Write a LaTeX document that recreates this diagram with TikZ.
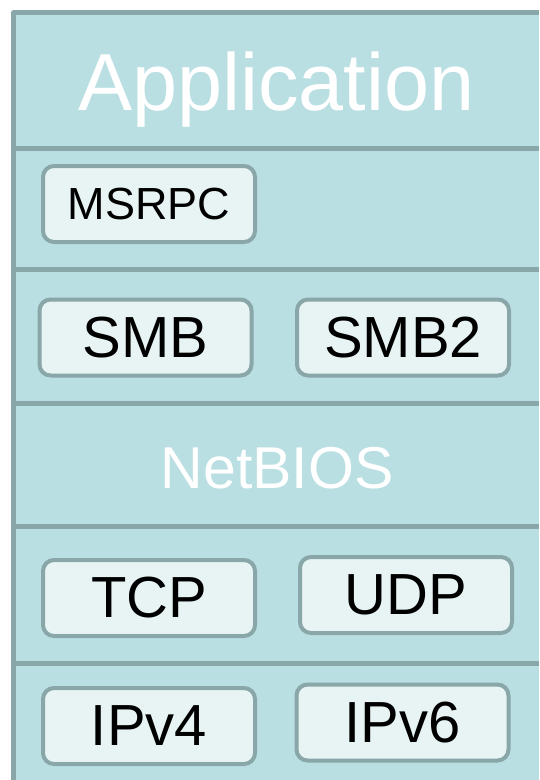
\documentclass[tikz,border=0pt]{standalone}
\usepackage{fontspec}
\setmainfont{Liberation Sans}
\definecolor{layerfill}{HTML}{BADFE2}
\definecolor{edgegray}{HTML}{89A6A8}
\definecolor{boxfill}{HTML}{E8F4F4}
\tikzset{
  protobox/.style={draw=edgegray, line width=4pt, fill=boxfill, rounded corners=11pt,
    minimum width=212pt, minimum height=76pt, inner sep=0pt, text=black,
    font=\fontsize{58}{58}\selectfont},
  smallbox/.style={protobox, font=\fontsize{45}{45}\selectfont},
  layerlabel/.style={text=white, inner sep=0pt, anchor=base},
  frameline/.style={draw=edgegray, line width=5pt},
}
\begin{document}
\begin{tikzpicture}[x=1pt,y=-1pt]
\useasboundingbox (0,0) rectangle (539,780);
\fill[layerfill] (13.5,12.5) rectangle (539,780);
% frame
\draw[frameline, line join=round] (13.5,780) -- (13.5,12.5) -- (539,12.5);
\foreach \yy in {148.5,269.5,403.5,526.5,663.5}
  \draw[frameline] (13.5,\yy) -- (539,\yy);
% layer labels
\node[layerlabel, font=\fontsize{81}{81}\selectfont] (app) at (276.5,110.5) {Application};
\node[layerlabel, font=\fontsize{59}{59}\selectfont] (netbios) at (277,488.5) {NetBIOS};
% protocol boxes
\node[smallbox] (msrpc) at (149,204) {MSRPC};
\node[protobox] (smb) at (145.5,337.5) {SMB};
\node[protobox] (smb2) at (403,337.5) {SMB2};
\node[protobox] (tcp) at (149,598) {TCP};
\node[protobox] (udp) at (406,595) {UDP};
\node[protobox] (ipv4) at (149,726) {IPv4};
\node[protobox] (ipv6) at (402.5,722.5) {IPv6};
\end{tikzpicture}
\end{document}
